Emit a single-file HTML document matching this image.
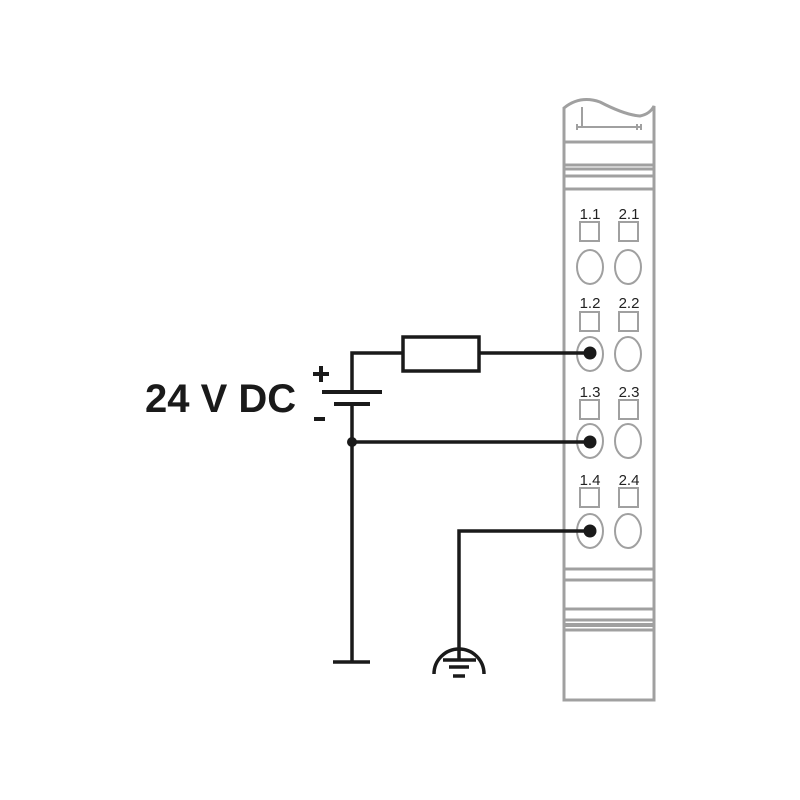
<!DOCTYPE html>
<html><head><style>html,body{margin:0;padding:0;background:#fff;}svg{display:block}</style></head><body>
<svg width="800" height="800" viewBox="0 0 800 800" xmlns="http://www.w3.org/2000/svg">
<g fill="none" stroke="#a0a0a0" stroke-width="3">
<path d="M564 700 V108 Q580 95 600 102 Q625 115 640 116 Q650 114 654 106 V700 Z"/>
<path d="M582 107 V128 M577 124 V130 M577 127 H641 M641 124 V130 M637 124 V130" stroke-width="2"/>
<path d="M564 142 H654 M564 165 H654 M564 169 H654 M564 176 H654 M564 189 H654"/>
<path d="M564 569 H654 M564 580 H654 M564 609 H654 M564 620 H654 M564 630 H654"/>
<path d="M564 625 H654" stroke-width="4"/>
</g>
<g fill="none" stroke="#a0a0a0" stroke-width="2">
<rect x="580" y="222" width="19" height="19"/><rect x="619" y="222" width="19" height="19"/>
<ellipse cx="590" cy="267" rx="13" ry="17"/><ellipse cx="628" cy="267" rx="13" ry="17"/>
<rect x="580" y="312" width="19" height="19"/><rect x="619" y="312" width="19" height="19"/>
<ellipse cx="590" cy="354" rx="13" ry="17"/><ellipse cx="628" cy="354" rx="13" ry="17"/>
<rect x="580" y="400" width="19" height="19"/><rect x="619" y="400" width="19" height="19"/>
<ellipse cx="590" cy="441" rx="13" ry="17"/><ellipse cx="628" cy="441" rx="13" ry="17"/>
<rect x="580" y="488" width="19" height="19"/><rect x="619" y="488" width="19" height="19"/>
<ellipse cx="590" cy="531" rx="13" ry="17"/><ellipse cx="628" cy="531" rx="13" ry="17"/>
</g>
<g font-family="Liberation Sans, sans-serif" font-size="15" fill="#222" text-anchor="middle">
<text x="590" y="219">1.1</text><text x="629" y="219">2.1</text>
<text x="590" y="308">1.2</text><text x="629" y="308">2.2</text>
<text x="590" y="397">1.3</text><text x="629" y="397">2.3</text>
<text x="590" y="485">1.4</text><text x="629" y="485">2.4</text>
</g>
<g fill="none" stroke="#1a1a1a" stroke-width="3.5">
<path d="M352 392 V353 H403 M479 353 H590"/>
<rect x="403" y="337" width="76" height="34"/>
<path d="M322 392 H382 M334 404 H370" stroke-width="4"/>
<path d="M352 404 V662 M333 662 H370 M352 442 H590"/>
<path d="M590 531 H459 V660 M443 660 H476 M449 667 H469 M453 676 H465"/>
<path d="M434 674 A25 25 0 0 1 484 674"/>
</g>
<g fill="#1a1a1a">
<circle cx="590" cy="353" r="6.5"/><circle cx="590" cy="442" r="6.5"/><circle cx="590" cy="531" r="6.5"/>
<circle cx="352" cy="442" r="5"/>
</g>
<text x="145" y="412" font-family="Liberation Sans, sans-serif" font-weight="bold" font-size="40" fill="#1a1a1a">24 V DC</text>
<path d="M313 374 H329 M321 366 V382 M314 419 H325" stroke="#1a1a1a" stroke-width="4"/>
</svg>
</body></html>
